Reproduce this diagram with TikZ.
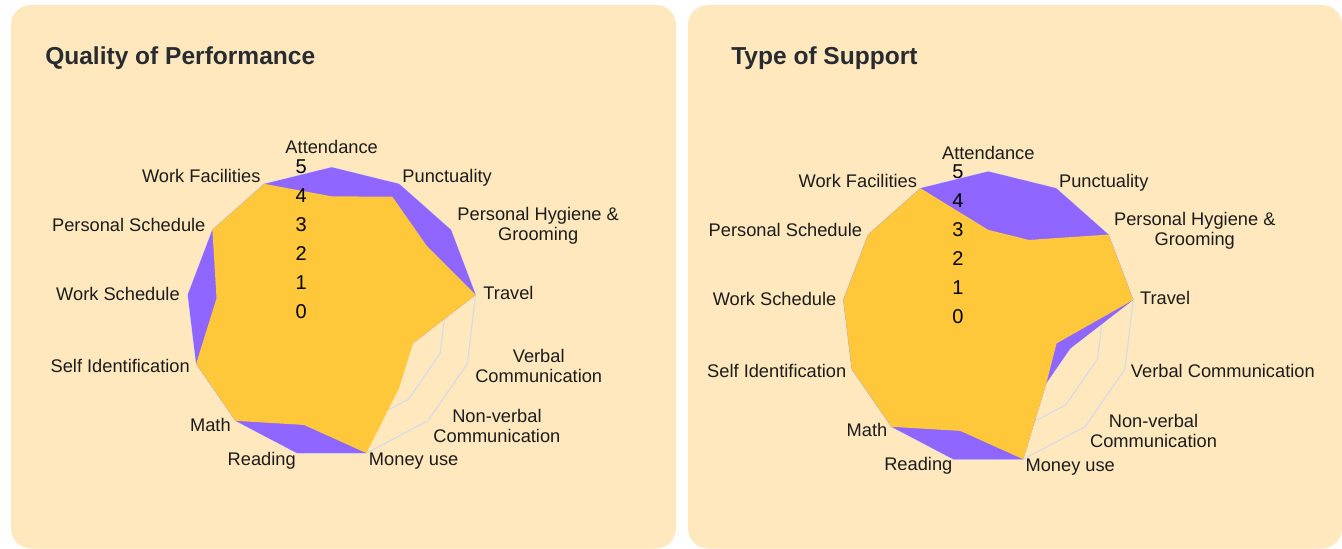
\documentclass[tikz,border=0pt]{standalone}
\usepackage{fontspec}
\setmainfont{Liberation Sans}
\usetikzlibrary{calc}
\definecolor{panelbg}{RGB}{255,232,189}
\definecolor{yel}{RGB}{255,200,59}
\definecolor{pur}{RGB}{143,102,255}
\definecolor{gridc}{RGB}{212,218,230}
\definecolor{titlec}{RGB}{40,44,48}
\definecolor{txtc}{RGB}{28,28,28}

% #1 name, #2 cx, #3 cy, #4 R, #5 values
\newcommand{\radarpts}[5]{%
  \foreach \v [count=\k from 0] in {#5} {
    \coordinate (#1-\k) at ({#2+\v/5*#4*sin(\k*360/13)}, {#3-\v/5*#4*cos(\k*360/13)});
  }%
}
% #1 style, #2 name
\newcommand{\radarfill}[2]{%
  \fill[#1] (#2-0) \foreach \k in {1,...,12} { -- (#2-\k) } -- cycle;%
}
% #1 cx, #2 cy, #3 R
\newcommand{\radargrid}[3]{%
  \foreach \L in {1,...,5} {
    \draw[gridline] ({#1}, {#2-\L/5*#3}) \foreach \k in {1,...,12} { -- ({#1+\L/5*#3*sin(\k*360/13)}, {#2-\L/5*#3*cos(\k*360/13)}) } -- cycle;
  }%
}
% #1 centre coordinate, #2 prefix
\newcommand{\radarcommon}[2]{%
  \node[lbl,anchor=base] (#2-att) at ($(#1)+(0,-158.4)$) {Attendance};
  \node[lbl,anchor=base west] (#2-pun) at ($(#1)+(70.5,-129.5)$) {Punctuality};
  \node[lbl,anchor=west,align=center] (#2-hyg) at ($(#1)+(125.5,-87)$) {Personal Hygiene \&\\Grooming};
  \node[lbl,anchor=base west] (#2-tra) at ($(#1)+(151.5,-13.3)$) {Travel};
  \node[lbl,anchor=west,align=center] (#2-nvc) at ($(#1)+(101.5,113.8)$) {Non-verbal\\Communication};
  \node[lbl,anchor=base west] (#2-mon) at ($(#1)+(37,153.6)$) {Money use};
  \node[lbl,anchor=base east] (#2-rea) at ($(#1)+(-35.7,152.7)$) {Reading};
  \node[lbl,anchor=base east] (#2-mat) at ($(#1)+(-100.7,119.4)$) {Math};
  \node[lbl,anchor=base east] (#2-sid) at ($(#1)+(-141.7,60.4)$) {Self Identification};
  \node[lbl,anchor=base east] (#2-wsc) at ($(#1)+(-151.7,-12.3)$) {Work Schedule};
  \node[lbl,anchor=base east] (#2-psc) at ($(#1)+(-126,-80.6)$) {Personal Schedule};
  \node[lbl,anchor=base east] (#2-wfa) at ($(#1)+(-71,-129.6)$) {Work Facilities};
  \foreach \t in {0,...,5} {
    \node[tickl] (#2-t\t) at ($(#1)+(-30.5,{-0.6-\t*29})$) {\t};
  }%
}

\begin{document}
\begin{tikzpicture}[x=0.75pt,y=-0.75pt,
  panel/.style={fill=panelbg,rounded corners=15pt},
  gridline/.style={draw=gridc,line width=0.8pt,line join=round},
  purfill/.style={fill=pur},
  yelfill/.style={fill=yel},
  lbl/.style={inner sep=0pt,text=txtc,font=\fontsize{13.7pt}{15pt}\selectfont},
  tickl/.style={inner sep=0pt,text=black,font=\fontsize{15pt}{18pt}\selectfont},
  ttl/.style={inner sep=0pt,anchor=base west,text=titlec,font=\fontsize{18.4pt}{22pt}\selectfont\bfseries}]
\useasboundingbox (0,0) rectangle (1342,549);
\fill[white] (0,0) rectangle (1342,549);
\fill[panel] (11,5) rectangle (676,548.5);
\fill[panel] (688,5) rectangle (1342,548.5);

\node[ttl] (t1) at (45,65) {Quality of Performance};
\node[ttl] (t2) at (731,65) {Type of Support};

% left chart
\coordinate (cL) at (331.7,312.3);
\radargrid{331.7}{312.3}{145}
\radarpts{LP}{331.7}{312.3}{145}{5,5,5,5,3,3,5,5,5,5,5,5,5}
\radarpts{LY}{331.7}{312.3}{145}{4,4.5,4,5,3,3.5,5,4,5,5,4,5,5}
\radarfill{purfill}{LP}
\radarfill{yelfill}{LY}
\radarcommon{cL}{L}
\node[lbl,anchor=west,align=center] (L-ver) at ($(cL)+(143.3,53.7)$) {Verbal\\Communication};

% right chart
\coordinate (cR) at (988.3,317.5);
\radargrid{988.3}{317.5}{146}
\radarpts{RP}{988.3}{317.5}{146}{5,5,5,5,3,3,5,5,5,5,5,5,5}
\radarpts{RY}{988.3}{317.5}{146}{3,3,5,5,2.5,3,5,4,5,5,5,5,5}
\radarfill{purfill}{RP}
\radarfill{yelfill}{RY}
\radarcommon{cR}{R}
\node[lbl,anchor=base west] (R-ver) at ($(cR)+(142.4,59.5)$) {Verbal Communication};
\end{tikzpicture}
\end{document}
